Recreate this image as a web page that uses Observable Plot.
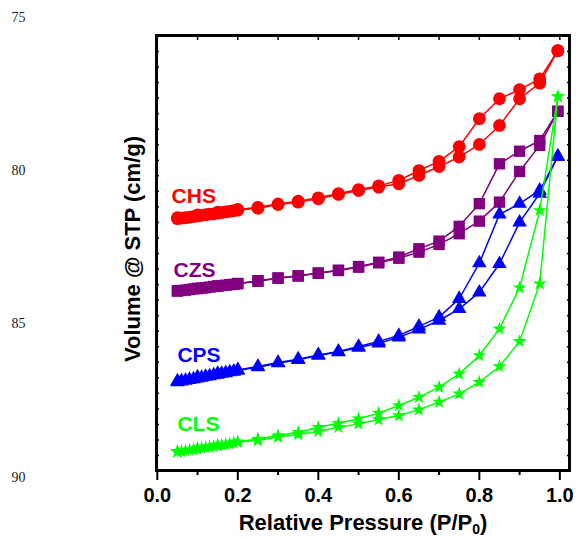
<!DOCTYPE html>
<html><head><meta charset="utf-8">
<script src="https://cdn.jsdelivr.net/npm/d3@7"></script>
<script src="https://cdn.jsdelivr.net/npm/@observablehq/plot@0.6"></script>
<style>html,body{margin:0;padding:0;background:#fff}#chart{width:578px;height:537px}</style>
</head><body><div id="chart"></div>
<script>
const seriesNames = ["CHS", "CZS", "CPS", "CLS"];
const seriesColors = ["#ff0000", "#800080", "#0000ff", "#00ff00"];
const seriesSymbols = ["circle", "square", "triangle", "star"];
const seriesR = [6.4, 6.4, 5.4, 4.4];

// relative pressure of adsorption branch and desorption branch
const adsX = [0.05,0.06,0.07,0.08,0.09,0.10,0.11,0.12,0.13,0.14,0.15,0.16,0.17,0.18,0.19,0.20,
  0.25,0.30,0.35,0.40,0.45,0.50,0.55,0.60,0.65,0.70,0.75,0.80,0.85,0.90,0.95,0.995];
const desX = [0.995,0.95,0.90,0.85,0.80,0.75,0.70,0.65,0.60,0.55,0.50,0.45,0.40,0.35,0.30,0.25,0.20,0.15,0.10,0.05];

const chsAds = [81.57,81.55,81.54,81.52,81.50,81.48,81.46,81.44,81.42,81.41,81.39,81.37,81.35,81.33,81.31,81.29,
  81.23,81.11,81.03,80.92,80.78,80.65,80.54,80.43,80.16,79.87,79.56,79.15,78.53,77.66,77.15,76.09];
const chsDes = [76.09,77.01,77.36,77.66,78.31,79.22,79.70,80.00,80.32,80.50,80.62,80.75,80.89,81.00,81.09,81.20,81.27,81.36,81.45,81.54];

const czsAds = [83.93,83.91,83.90,83.88,83.86,83.85,83.83,83.82,83.80,83.78,83.77,83.75,83.74,83.72,83.71,83.69,
  83.61,83.51,83.44,83.35,83.26,83.15,83.01,82.86,82.66,82.41,82.06,81.65,81.03,80.03,79.18,78.07];
const czsDes = [78.07,79.02,79.37,79.78,81.08,81.82,82.30,82.55,82.82,82.99,83.13,83.25,83.34,83.43,83.50,83.59,83.68,83.76,83.84,83.92];

const cpsAds = [86.90,86.87,86.85,86.82,86.80,86.77,86.75,86.72,86.70,86.67,86.65,86.62,86.60,86.57,86.55,86.52,
  86.41,86.28,86.17,86.03,85.92,85.77,85.63,85.44,85.18,84.89,84.51,83.97,83.04,81.69,80.75,79.54];
const cpsDes = [79.54,80.65,81.08,81.43,83.02,84.18,84.78,85.08,85.38,85.57,85.74,85.90,86.01,86.15,86.26,86.39,86.50,86.62,86.74,86.87];

const clsAds = [89.18,89.16,89.14,89.12,89.10,89.07,89.05,89.03,89.01,88.99,88.97,88.95,88.93,88.91,88.88,88.86,
  88.80,88.69,88.61,88.51,88.37,88.26,88.12,87.99,87.80,87.55,87.28,86.90,86.39,85.57,83.69,77.59];
const clsDes = [77.59,81.30,83.82,85.16,86.03,86.63,87.06,87.39,87.66,87.91,88.09,88.24,88.37,88.53,88.64,88.75,88.84,88.95,89.05,89.15];

const xTickLabels = [0.0, 0.2, 0.4, 0.6, 0.8, 1.0];
const xMinorTicks = [0.1, 0.3, 0.5, 0.7, 0.9];
const xTopTicks = [0.0, 0.1, 0.2, 0.3, 0.4, 0.5, 0.6, 0.7, 0.8, 0.9, 1.0];
const yTickLabels = [75, 80, 85, 90];
const labelX = [0.0355, 0.0405, 0.05, 0.05];
const labelY = [80.83, 83.26, 86.03, 88.26];
const xTitle = ["Relative Pressure (P/P", "0", ")"];
const yTitle = "Volume @ STP (cm/g)";

const yMinorTicks = d3.range(27).map(k => 76.118 + 0.5067 * k);

const adsSets = [chsAds, czsAds, cpsAds, clsAds];
const desSets = [chsDes, czsDes, cpsDes, clsDes];
const rows = seriesNames.map((s, i) => [
  ...adsX.map((x, j) => ({series: s, branch: "ads", x, y: adsSets[i][j]})),
  ...desX.map((x, j) => ({series: s, branch: "des", x, y: desSets[i][j]}))
]);

const seriesMarks = [];
seriesNames.forEach((s, i) => {
  seriesMarks.push(Plot.line(rows[i], {x: "x", y: "y", z: "branch", stroke: seriesColors[i], strokeWidth: 1.5}));
  seriesMarks.push(Plot.dot(rows[i], {x: "x", y: "y", symbol: seriesSymbols[i], r: seriesR[i], fill: seriesColors[i], stroke: "none"}));
});

const labels = seriesNames.map((s, i) => ({name: s, x: labelX[i], y: labelY[i], color: seriesColors[i]}));

const chart = Plot.plot({
  width: 578, height: 537,
  marginTop: 35, marginBottom: 67, marginLeft: 156, marginRight: 9,
  style: {fontFamily: "Liberation Sans, Arial, sans-serif", background: "white", overflow: "visible"},
  x: {domain: [-0.002, 1.024]},
  y: {domain: [89.78, 75.597]},
  marks: [
    ...seriesMarks,
    Plot.text(labels, {x: "x", y: "y", text: "name", fill: "color", fontSize: 21, fontWeight: "bold", textAnchor: "start"}),
    Plot.frame({stroke: "black", strokeWidth: 3}),
    Plot.axisX({anchor: "bottom", ticks: xTickLabels, tickSize: 10, tickPadding: 7, strokeWidth: 2,
      tickFormat: d3.format(".1f"), fontSize: 20, fontWeight: "bold", fill: "black", label: null}),
    Plot.axisX({anchor: "bottom", ticks: xMinorTicks, tickSize: 5, strokeWidth: 2, fill: "none", label: null}),
    Plot.axisX({anchor: "top", ticks: xTopTicks, tickSize: -4, strokeWidth: 1.5, fill: "none", label: null}),
    Plot.axisY({anchor: "left", ticks: yMinorTicks, tickSize: -3, strokeWidth: 1.5, fill: "none", label: null}),
    Plot.axisY({anchor: "right", ticks: yMinorTicks, tickSize: -3, strokeWidth: 1.5, fill: "none", label: null}),
    Plot.axisY({anchor: "left", ticks: yTickLabels, tickSize: 0, tickPadding: 131, fontSize: 14,
      fontFamily: "Liberation Serif, Times New Roman, serif", fill: "#222", label: null, tickFormat: d => String(d)}),
    Plot.text([yTitle], {frameAnchor: "left", textAnchor: "middle", lineAnchor: "middle", rotate: -90, dx: -24, dy: -4,
      fontSize: 22, fontWeight: "bold", fill: "black"}),
    Plot.text([xTitle.join("")], {frameAnchor: "bottom", textAnchor: "middle", lineAnchor: "middle", dy: 52,
      fontSize: 22, fontWeight: "bold", fill: "black"})
  ]
});

chart.querySelectorAll("text").forEach(t => {
  if (t.textContent === xTitle.join("")) {
    t.textContent = "";
    const ns = "http://www.w3.org/2000/svg";
    const a = document.createElementNS(ns, "tspan"); a.textContent = xTitle[0];
    const b = document.createElementNS(ns, "tspan"); b.textContent = xTitle[1];
    b.setAttribute("font-size", "14"); b.setAttribute("dy", "4");
    const c = document.createElementNS(ns, "tspan"); c.textContent = xTitle[2]; c.setAttribute("dy", "-4");
    t.append(a, b, c);
  }
});

document.getElementById("chart").appendChild(chart);
</script>
</body></html>
